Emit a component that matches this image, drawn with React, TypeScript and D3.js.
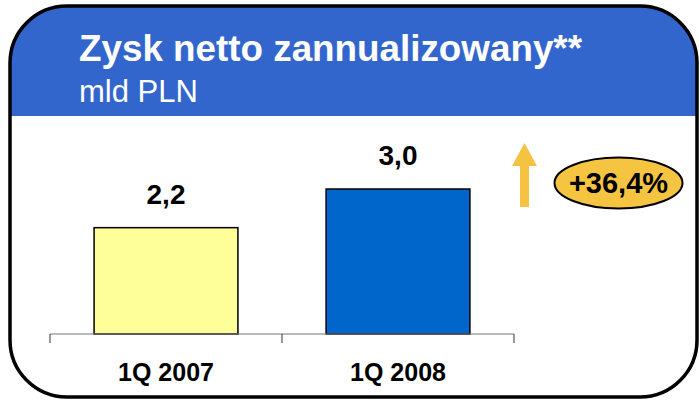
import React from "react";
import * as d3 from "d3";

const categories: string[] = ["1Q 2007", "1Q 2008"];
const values: number[] = [2.2, 3.0];
const valueLabels: string[] = ["2,2", "3,0"];
const barColors: string[] = ["#FFFF99", "#0066CC"];
const title = "Zysk netto zannualizowany**";
const subtitle = "mld PLN";
const changeLabel = "+36,4%";

const W = 699;
const H = 400;
const FONT = "'Liberation Sans', Arial, sans-serif";

export default function App() {
  const x = d3
    .scaleBand<string>()
    .domain(categories)
    .range([50, 514])
    .paddingInner(0.38)
    .paddingOuter(0.19);
  const y = d3.scaleLinear().domain([0, 3]).range([334, 189]);
  const baseY = y(0);

  const frame = { x: 10, y: 6, w: 687, h: 391, r: 57 };
  const headerBottom = 116;
  const ticks = [x.range()[0], ...categories.slice(1).map((c) => (x(c) as number) - (x.step() - x.bandwidth()) / 2), x.range()[1]];

  // arrow geometry
  const ax = 524.5;
  const arrowPath = d3.path();
  arrowPath.moveTo(ax - 4.5, 207);
  arrowPath.lineTo(ax - 4.5, 166);
  arrowPath.lineTo(ax - 12.5, 166);
  arrowPath.lineTo(ax, 143);
  arrowPath.lineTo(ax + 12.5, 166);
  arrowPath.lineTo(ax + 4.5, 166);
  arrowPath.lineTo(ax + 4.5, 207);
  arrowPath.closePath();

  return (
    <svg
      width={W}
      height={H}
      style={{ position: "absolute", left: 0, top: 0, background: "#fff" }}
      fontFamily={FONT}
    >
      <defs>
        <clipPath id="frameClip">
          <rect x={frame.x} y={frame.y} width={frame.w} height={frame.h} rx={frame.r} ry={frame.r} />
        </clipPath>
      </defs>
      <rect x={0} y={0} width={W} height={H} fill="#fff" />
      <g clipPath="url(#frameClip)">
        <rect x={frame.x} y={frame.y} width={frame.w} height={headerBottom - frame.y} fill="#3366CC" />
      </g>
      <rect
        x={frame.x}
        y={frame.y}
        width={frame.w}
        height={frame.h}
        rx={frame.r}
        ry={frame.r}
        fill="none"
        stroke="#000"
        strokeWidth={3.5}
      />
      <text x={79} y={61} fill="#fff" fontSize={36.8} fontWeight="bold">
        {title}
      </text>
      <text x={79} y={102} fill="#fff" fontSize={31}>
        {subtitle}
      </text>

      {/* bars */}
      {categories.map((c, i) => (
        <g key={c}>
          <rect
            x={x(c)}
            y={y(values[i])}
            width={x.bandwidth()}
            height={baseY - y(values[i])}
            fill={barColors[i]}
            stroke="#000"
            strokeWidth={1.5}
          />
          <text
            x={(x(c) as number) + x.bandwidth() / 2}
            y={y(values[i]) - 24}
            textAnchor="middle"
            fontSize={28}
            fontWeight="bold"
            fill="#000"
          >
            {valueLabels[i]}
          </text>
          <text
            x={(x(c) as number) + x.bandwidth() / 2}
            y={381}
            textAnchor="middle"
            fontSize={25}
            fontWeight="bold"
            fill="#000"
          >
            {c}
          </text>
        </g>
      ))}

      {/* axis */}
      <line x1={x.range()[0]} x2={x.range()[1]} y1={baseY} y2={baseY} stroke="#777" strokeWidth={1} />
      {ticks.map((t, i) => (
        <line key={i} x1={t} x2={t} y1={baseY} y2={baseY + 9} stroke="#333" strokeWidth={1} />
      ))}

      {/* arrow */}
      <path d={arrowPath.toString()} fill="#F5C242" />

      {/* change ellipse */}
      <ellipse cx={618.5} cy={183} rx={64} ry={25.5} fill="#F5C542" stroke="#000" strokeWidth={2} />
      <text x={618.5} y={193} textAnchor="middle" fontSize={29} fontWeight="bold" fill="#000">
        {changeLabel}
      </text>
    </svg>
  );
}
